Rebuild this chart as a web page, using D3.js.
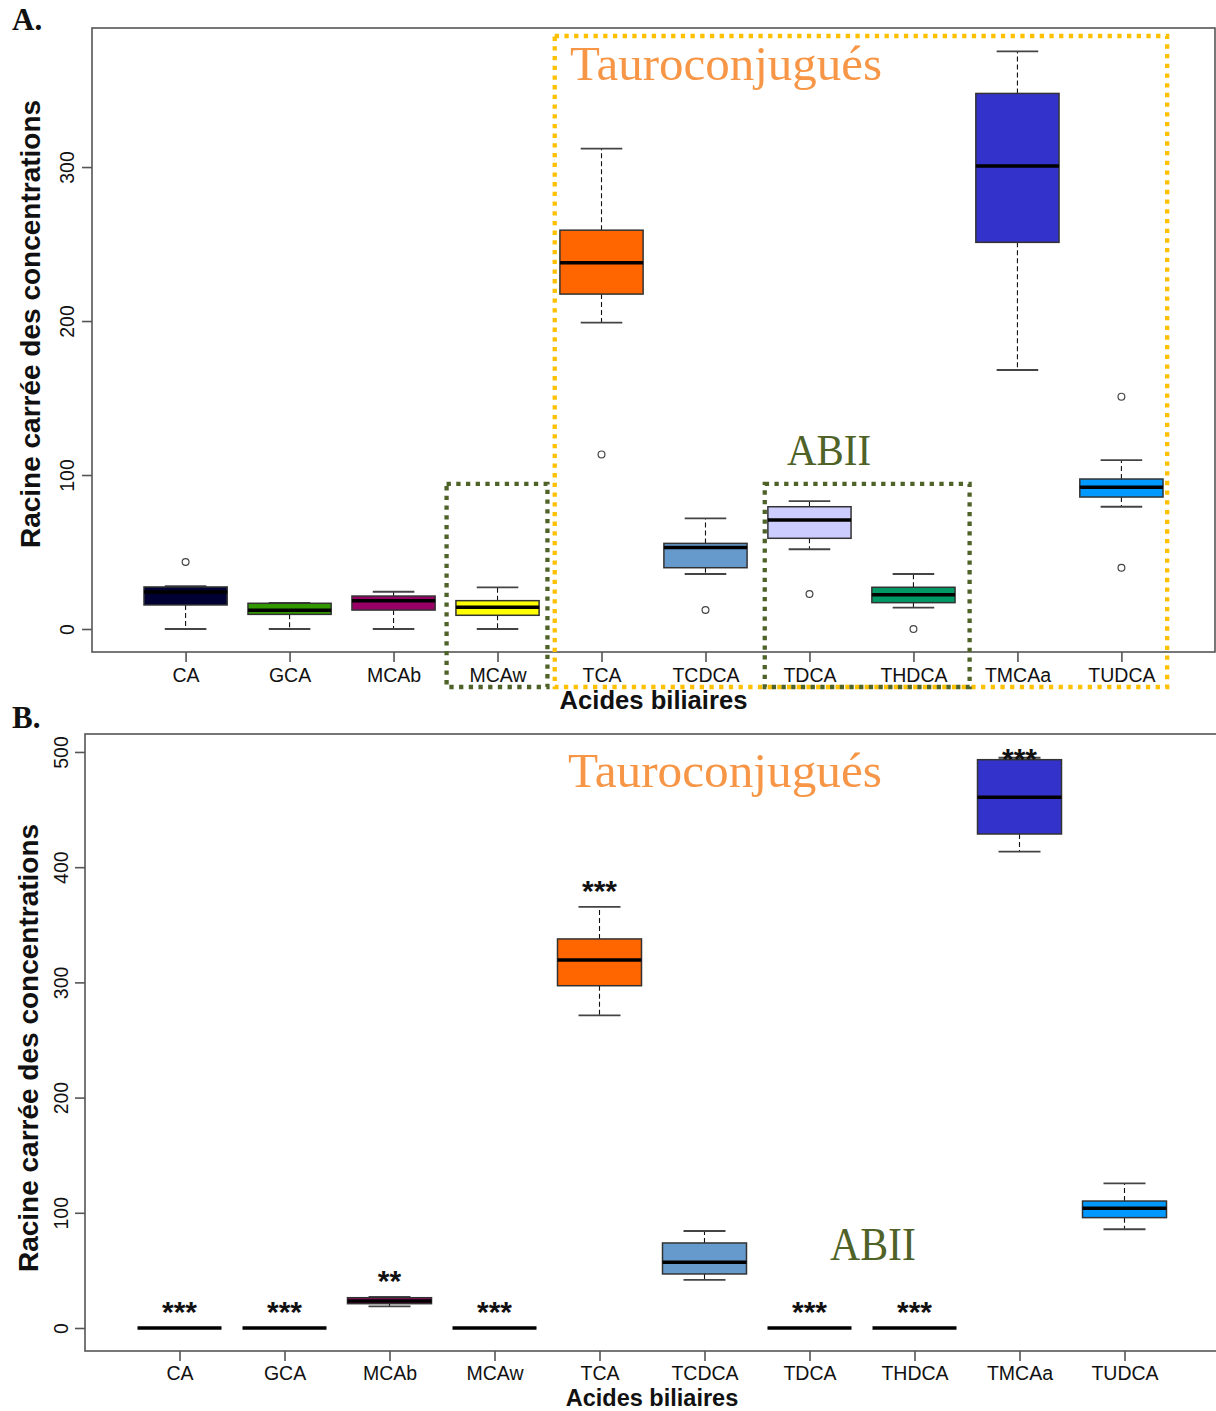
<!DOCTYPE html>
<html>
<head>
<meta charset="utf-8">
<script src="https://cdn.jsdelivr.net/npm/d3@7"></script>
<style>
  body { margin: 0; background: #fff; }
  svg { display: block; }
</style>
</head>
<body>
<svg id="chart" width="1216" height="1411"></svg>
<script>
// ---------- DATA ----------
const categories = ["CA","GCA","MCAb","MCAw","TCA","TCDCA","TDCA","THDCA","TMCAa","TUDCA"];
const fillColors = ["#000033","#339900","#990066","#FFFF00","#FF6600","#6699CC","#CCCCFF","#009966","#3333CC","#0099FF"];

// Panel A (five-number summaries + outliers)
const aLow  = [0, 0, 0, 0, 198.9, 35.7, 51.8, 13.9, 168.2, 79.4];
const aQ1   = [15.6, 9.5, 12.3, 8.9, 217.5, 39.8, 58.9, 17.1, 251.1, 85.7];
const aMed  = [24.0, 12.1, 18.4, 14.1, 237.9, 53.0, 70.8, 22.3, 300.6, 92.0];
const aQ3   = [27.3, 16.7, 21.4, 18.4, 259.0, 55.6, 79.4, 27.1, 347.8, 97.4];
const aHigh = [27.9, 17.0, 24.2, 27.0, 312.0, 71.9, 83.1, 35.7, 375.1, 109.7];
const aOut  = [[43.5], [], [], [], [113.4], [12.3], [22.7], [0], [], [150.9, 39.8]];
const aYTicks = [0, 100, 200, 300];

// Panel B
const bLow  = [0, 0, 18.8, 0, 271.4, 41.7, 0, 0, 413.5, 85.7];
const bQ1   = [0, 0, 21.1, 0, 297.1, 46.9, 0, 0, 428.8, 95.8];
const bMed  = [0, 0, 23.4, 0, 319.4, 57.0, 0, 0, 460.7, 103.9];
const bQ3   = [0, 0, 26.3, 0, 337.7, 73.8, 0, 0, 493.3, 110.2];
const bHigh = [0, 0, 26.9, 0, 365.5, 84.2, 0, 0, 495.0, 125.6];
const bOut  = [[], [], [], [], [], [], [], [], [], []];
const bSig  = ["***","***","**","***","***","","***","***","***",""];
const bYTicks = [0, 100, 200, 300, 400, 500];

const yTitle = "Racine carrée des concentrations";
const xTitle = "Acides biliaires";

// ---------- DRAWING ----------
const svg = d3.select("#chart");
const SANS = "'Liberation Sans', Arial, sans-serif";
const SERIF = "'Liberation Serif', 'Times New Roman', serif";

function panel(cfg) {
  const x = d3.scaleLinear().domain([0.1, categories.length + 0.9]).range([cfg.left, cfg.right]);
  const y = d3.scaleLinear().domain(cfg.yDomain).range([cfg.bottom, cfg.top]);
  const step = x(2) - x(1);
  const g = svg.append("g");

  // axes
  const xa = g.append("g").attr("transform", `translate(0,${cfg.bottom})`)
    .call(d3.axisBottom(x).tickValues(d3.range(1, categories.length + 1))
      .tickFormat(i => categories[i - 1]).tickSize(10));
  xa.select(".domain").remove();
  xa.selectAll("line").attr("stroke", "#555").attr("stroke-width", 1.6);
  xa.selectAll("text").attr("y", cfg.xLabOff).attr("dy", 0)
    .style("font-family", SANS).style("font-size", "19.5px").attr("fill", "#111");

  const ya = g.append("g").attr("transform", `translate(${cfg.left},0)`)
    .call(d3.axisLeft(y).tickValues(cfg.yTicks).tickSize(10));
  ya.select(".domain").remove();
  ya.selectAll("line").attr("stroke", "#555").attr("stroke-width", 1.6);
  ya.selectAll("text").attr("transform", "rotate(-90)").attr("x", 0).attr("y", cfg.yLabOff)
    .attr("dy", 0).attr("text-anchor", "middle")
    .style("font-family", SANS).style("font-size", "19.5px").attr("fill", "#111");

  // frame
  g.append("rect").attr("x", cfg.left).attr("y", cfg.top)
    .attr("width", cfg.right - cfg.left).attr("height", cfg.bottom - cfg.top)
    .attr("fill", "none").attr("stroke", "#555").attr("stroke-width", 1.6);

  // boxes
  const bw = 0.8 * step, cw = 0.4 * step;
  categories.forEach((c, i) => {
    const cx = x(i + 1);
    const bg = g.append("g");
    // whiskers
    if (cfg.high[i] > cfg.q3[i])
      bg.append("line").attr("x1", cx).attr("x2", cx).attr("y1", y(cfg.q3[i])).attr("y2", y(cfg.high[i]))
        .attr("stroke", "#111").attr("stroke-width", 1.1).attr("stroke-dasharray", "5,3");
    if (cfg.low[i] < cfg.q1[i])
      bg.append("line").attr("x1", cx).attr("x2", cx).attr("y1", y(cfg.q1[i])).attr("y2", y(cfg.low[i]))
        .attr("stroke", "#111").attr("stroke-width", 1.1).attr("stroke-dasharray", "5,3");
    // caps
    if (cfg.high[i] !== cfg.q3[i] || cfg.q3[i] !== cfg.q1[i]) {
      [cfg.high[i], cfg.low[i]].forEach(v => {
        bg.append("line").attr("x1", cx - cw / 2).attr("x2", cx + cw / 2)
          .attr("y1", y(v)).attr("y2", y(v)).attr("stroke", "#444").attr("stroke-width", 1.8);
      });
    }
    // box
    if (cfg.q3[i] > cfg.q1[i])
      bg.append("rect").attr("x", cx - bw / 2).attr("width", bw)
        .attr("y", y(cfg.q3[i])).attr("height", y(cfg.q1[i]) - y(cfg.q3[i]))
        .attr("fill", fillColors[i]).attr("stroke", "#333").attr("stroke-width", 1.5);
    // median
    bg.append("line").attr("x1", cx - bw / 2).attr("x2", cx + bw / 2)
      .attr("y1", y(cfg.med[i])).attr("y2", y(cfg.med[i]))
      .attr("stroke", "#000").attr("stroke-width", 3.5);
    // outliers
    cfg.out[i].forEach(v => {
      bg.append("circle").attr("cx", cx).attr("cy", y(v)).attr("r", 3.4)
        .attr("fill", "#fff").attr("stroke", "#444").attr("stroke-width", 1.2);
    });
    // significance
    if (cfg.sig && cfg.sig[i]) {
      const sv = Math.min(cfg.high[i] + 20, 500);
      bg.append("text").attr("x", cx).attr("y", y(sv) + 17).attr("text-anchor", "middle")
        .style("font-family", SANS).style("font-size", "30px").style("font-weight", "bold")
        .attr("fill", "#111").text(cfg.sig[i]);
    }
  });

  // titles
  g.append("text").attr("transform", `translate(${cfg.yTitleX},${cfg.yTitleY}) rotate(-90)`)
    .attr("text-anchor", "middle").style("font-family", SANS).style("font-size", "28px")
    .style("font-weight", "bold").attr("fill", "#111").text(yTitle);
  g.append("text").attr("x", x(5.5)).attr("y", cfg.xTitleY).attr("text-anchor", "middle")
    .style("font-family", SANS).style("font-size", cfg.xTitleSize).style("font-weight", "bold")
    .attr("fill", "#111").text(xTitle);

  g.append("text").attr("x", 12).attr("y", cfg.letterY)
    .style("font-family", SERIF).style("font-size", "31px").style("font-weight", "bold")
    .attr("fill", "#111").text(cfg.letter);

  return { g, x, y, step };
}

// ---------- Panel A ----------
const A = panel({
  left: 92, right: 1215, top: 28, bottom: 652, yDomain: [-14.94, 390.3], yTicks: aYTicks,
  low: aLow, q1: aQ1, med: aMed, q3: aQ3, high: aHigh, out: aOut, sig: null,
  xLabOff: 30, yLabOff: -18, yTitleX: 40, yTitleY: 324, xTitleY: 709, xTitleSize: "25.6px",
  letter: "A.", letterY: 30
});

function dottedRect(p, fromIdx, toIdx, padL, padR, top, bottom, color) {
  p.g.append("rect")
    .attr("x", p.x(fromIdx) - padL * p.step).attr("y", top)
    .attr("width", p.x(toIdx) + padR * p.step - (p.x(fromIdx) - padL * p.step))
    .attr("height", bottom - top)
    .attr("fill", "none").attr("stroke", color).attr("stroke-width", 4.3)
    .attr("stroke-dasharray", "4.3,5.4");
}
const iOf = n => categories.indexOf(n) + 1;
dottedRect(A, iOf("TCA"), iOf("TUDCA"), 0.45, 0.44, 36, 687, "#FFC000");
dottedRect(A, iOf("MCAw"), iOf("MCAw"), 0.49, 0.48, A.y(94.2), 687, "#4F6228");
dottedRect(A, iOf("TDCA"), iOf("THDCA"), 0.43, 0.54, A.y(94.2), 687, "#4F6228");

A.g.append("text").attr("x", 570).attr("y", 80).attr("textLength", 312).attr("lengthAdjust", "spacingAndGlyphs")
  .style("font-family", SERIF).style("font-size", "48px").attr("fill", "#F79646").text("Tauroconjugués");
A.g.append("text").attr("x", 787).attr("y", 465).attr("textLength", 84).attr("lengthAdjust", "spacingAndGlyphs")
  .style("font-family", SERIF).style("font-size", "45px").attr("fill", "#4F6228").text("ABII");

// ---------- Panel B ----------
const B = panel({
  left: 85, right: 1219, top: 734, bottom: 1351, yDomain: [-19.97, 515.6], yTicks: bYTicks,
  low: bLow, q1: bQ1, med: bMed, q3: bQ3, high: bHigh, out: bOut, sig: bSig,
  xLabOff: 28.5, yLabOff: -17, yTitleX: 38, yTitleY: 1048, xTitleY: 1406, xTitleSize: "23.5px",
  letter: "B.", letterY: 728
});

B.g.append("text").attr("x", 568).attr("y", 787).attr("textLength", 314).attr("lengthAdjust", "spacingAndGlyphs")
  .style("font-family", SERIF).style("font-size", "48px").attr("fill", "#F79646").text("Tauroconjugués");
B.g.append("text").attr("x", 830).attr("y", 1260).attr("textLength", 86).attr("lengthAdjust", "spacingAndGlyphs")
  .style("font-family", SERIF).style("font-size", "46px").attr("fill", "#4F6228").text("ABII");
</script>
</body>
</html>
